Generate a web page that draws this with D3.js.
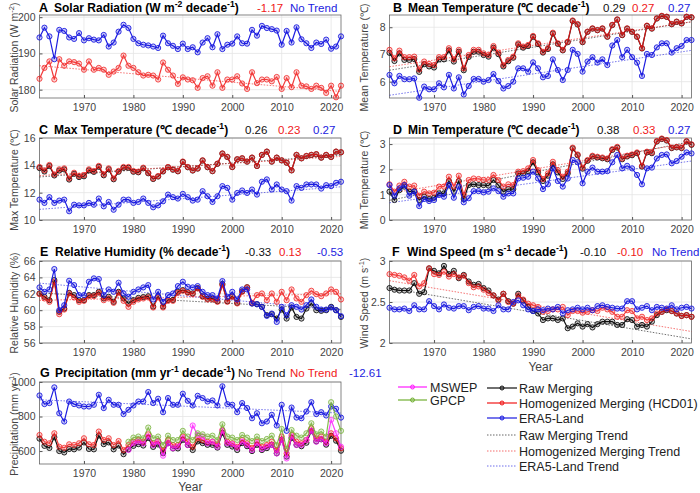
<!DOCTYPE html>
<html><head><meta charset="utf-8">
<script src="https://cdn.jsdelivr.net/npm/d3@7"></script>
<style>body{margin:0;background:#fff} svg{font-family:"Liberation Sans",Arial,sans-serif}</style>
</head><body><svg id="c" width="700" height="493"></svg>
<script>
const years = d3.range(1961, 2023);
const yearsSat = d3.range(1979, 2023);
const xTicks = [1970, 1980, 1990, 2000, 2010, 2020];

// A Solar radiation
const solarHom = [183,186,187.8,182.8,188.4,186.6,187.8,187.6,187.2,185.5, 187.8,185.5,186,185.5,184.1,185,186,189.4,186.6,186, 184.8,183.9,184.1,183.9,182.8,187.5,185.5,183.9,181.6,183.4, 182.8,182.6,180.5,183.2,183.7,181.1,184.8,180.5,182.8,182.8, 183.7,181.7,180.2,184.8,181.8,182.8,182.8,182.3,183.5,180.2, 183.2,180.7,184.8,181.1,180.9,180.2,181.1,180.5,179.1,181.1, 177.9,181.1];
const solarEra = [194.4,197.1,194.7,188.4,196.5,196.2,194.4,194,195.6,193.6, 194.2,193.8,193.6,195.1,191.9,193,196,197.9,197,194, 192.8,192.4,192.2,191.9,191.5,194.9,192.8,192.1,191.2,192.7, 191.2,191.7,190.3,193,194.2,191.7,195.3,191.2,192.4,192.7, 194.7,192.8,192.7,196.5,194.9,197.6,197,196.7,196.3,192.4, 196.2,193,197.2,193.9,192.8,191.5,193,192.6,193.8,191.3, 191.9,194.7];
// B Mean temperature
const meanRaw = [7.06,6.76,7.04,6.8,6.8,6.83,6.36,6.64,6.56,6.52, 6.82,6.82,7.15,6.74,7.1,6.42,6.91,7.1,7.1,6.98, 6.92,7.25,7.01,6.56,6.75,6.88,7.37,7.25,7.31,7.65, 7.38,7.07,7.2,7.77,7.39,7.15,7.45,8.23,8.1,7.45, 7.83,7.95,7.89,7.95,7.65,8.08,8.28,7.71,7.95,7.83, 7.65,7.22,8.05,7.95,8.32,8.41,8.38,8.11,8.2,8.14, 8.38,8.36];
const meanHom = [7.17,6.86,7.14,6.9,6.9,6.92,6.45,6.74,6.65,6.61, 6.9,6.9,7.23,6.82,7.17,6.49,6.98,7.17,7.17,7.04, 6.98,7.31,7.07,6.61,6.8,6.92,7.41,7.29,7.35,7.68, 7.41,7.1,7.23,7.8,7.41,7.17,7.47,8.25,8.12,7.47, 7.84,7.96,7.9,7.96,7.66,8.09,8.29,7.72,7.96,7.84, 7.66,7.23,8.06,7.96,8.33,8.42,8.39,8.12,8.21,8.15, 8.39,8.37];
const meanEra = [6.25,5.94,6.21,6.09,6.09,6.12,5.41,5.82,5.72,5.72, 5.94,5.79,6.25,5.75,6.16,5.53,5.84,6.1,6.1,6.0, 6.06,6.28,6.02,5.75,5.84,6.0,6.49,6.49,6.37,6.71, 6.49,6.16,6.21,6.82,6.43,6.06,6.43,7.17,7.02,6.37, 6.74,6.9,6.7,6.82,6.61,7.33,7.53,6.9,7.17,6.9, 6.7,6.21,7.02,6.98,7.26,7.41,7.41,7.07,7.23,7.31, 7.53,7.53];
// C Max temperature
const maxRaw = [13.8,13.55,13.95,13.26,13.62,13.7,12.96,13.38,13.14,13.2, 13.63,13.52,13.89,13.27,13.71,12.98,13.53,13.82,13.82,13.53, 13.49,13.78,13.42,13.0,13.18,13.55,13.85,13.68,13.56,14.25, 13.86,13.62,13.76,14.35,13.86,13.57,14.11,14.86,14.61,13.87, 14.44,14.51,14.27,14.56,13.95,14.76,15.0,14.27,14.56,14.36, 14.19,13.63,14.76,14.51,14.68,14.76,14.81,14.56,14.76,14.61, 15.0,14.95];
const maxHom = [13.88,13.64,14.03,13.34,13.71,13.78,13.04,13.46,13.22,13.29, 13.71,13.59,13.96,13.34,13.78,13.04,13.59,13.88,13.88,13.59, 13.54,13.83,13.46,13.04,13.22,13.59,13.88,13.71,13.59,14.28, 13.88,13.64,13.78,14.37,13.88,13.59,14.13,14.87,14.62,13.88, 14.45,14.52,14.28,14.57,13.96,14.77,15.01,14.28,14.57,14.37, 14.2,13.64,14.77,14.52,14.69,14.77,14.82,14.57,14.77,14.62, 15.01,14.96];
const maxEra = [11.49,11.25,11.67,11.25,11.42,11.49,10.64,11.12,11.07,11.07, 11.25,11.12,11.57,11.0,11.32,10.75,11.12,11.49,11.49,11.25, 11.32,11.57,11.25,10.93,11.07,11.37,11.86,11.67,11.57,11.91, 11.67,11.42,11.49,12.11,11.74,11.32,11.74,12.48,12.35,11.49, 11.98,12.16,11.98,12.23,11.86,12.8,12.97,12.23,12.6,12.23, 12.11,11.42,12.48,12.35,12.6,12.6,12.6,12.3,12.55,12.48, 12.72,12.8];
// D Min temperature
const minRaw = [1.12,0.79,1.18,1.32,1.12,1.14,0.79,0.92,0.83,0.88, 1.05,1.05,1.54,1.12,1.54,0.83,1.38,1.41,1.38,1.38, 1.36,1.58,1.38,1.12,1.22,1.22,1.84,1.84,1.93,2.28, 1.88,1.54,1.75,2.2,1.88,1.62,1.84,2.83,2.56,2.03, 2.34,2.51,2.47,2.44,2.4,2.77,2.86,2.4,2.51,2.56, 2.64,2.11,2.67,2.64,3.1,3.2,3.14,2.84,2.87,2.84, 3.1,2.97];
const minHom = [1.41,1.12,1.36,1.51,1.32,1.36,0.96,1.12,1.05,1.08, 1.32,1.32,1.71,1.32,1.75,0.99,1.58,1.64,1.62,1.58, 1.58,1.78,1.58,1.32,1.41,1.38,1.91,1.93,2.04,2.37, 1.97,1.62,1.84,2.3,1.97,1.71,1.91,2.86,2.59,2.07, 2.37,2.54,2.5,2.47,2.43,2.8,2.89,2.43,2.54,2.59, 2.67,2.14,2.7,2.67,3.12,3.22,3.16,2.86,2.89,2.86, 3.12,2.99];
const minEra = [1.38,0.96,1.25,1.38,0.96,1.12,0.55,0.83,0.75,0.79, 0.99,0.92,1.38,0.88,1.32,0.7,0.86,1.14,1.14,1.09, 1.12,1.25,1.14,0.92,1.05,1.05,1.64,1.67,1.71,1.91, 1.64,1.22,1.41,2.04,1.54,1.32,1.64,2.37,2.28,1.45, 1.91,2.07,1.91,1.91,1.93,2.28,2.57,2.04,2.14,2.04, 1.78,1.41,2.04,2.07,2.43,2.57,2.59,2.24,2.33,2.5, 2.67,2.63];
// E Relative humidity
const rhRaw = [62.04,61.63,61.22,63.67,59.8,60.2,62.12,61.84,61.22,61.22, 61.84,61.84,62.24,61.43,61.63,61.02,62.24,61.43,60.82,61.22, 61.5,61.6,61.7,60.45,61.7,60.45,61.25,61.25,62.25,62.45, 62.2,62.05,62.7,61.7,61.4,61.4,61.1,63.2,61.1,61.7, 60.9,62.3,62.8,60.82,60.73,60.41,59.39,59.51,58.98,60.08, 58.98,60.33,59.18,58.98,60.2,60.82,60.0,59.92,60.0,60.41, 60.0,59.18];
const rhHom = [61.96,61.43,61.02,63.47,59.51,60.08,62.04,61.55,61.02,61.14, 61.71,61.71,62.12,61.22,61.43,60.9,62.12,61.14,60.41,61.02, 61.31,61.43,61.55,60.33,61.55,60.33,61.14,61.14,62.12,62.37, 62.12,61.96,62.65,61.63,61.31,61.31,61.02,63.06,61.02,61.63, 60.82,62.24,62.78,60.9,61.84,62.04,61.22,62.04,61.02,62.24, 61.22,62.53,61.43,61.02,61.84,62.37,61.96,61.71,62.04,62.53, 62.24,61.31];
const rhEra = [62.78,62.24,62.53,65.02,60.0,60.61,63.59,63.06,61.84,61.84, 63.47,63.88,63.8,61.84,62.53,62.24,63.35,62.04,61.63,62.24, 62.53,62.78,63.06,61.31,62.24,61.02,61.84,62.04,62.94,63.47, 62.86,62.78,62.94,62.24,61.84,61.84,61.43,63.55,61.63,62.24, 61.31,62.53,62.53,60.82,60.73,60.41,59.31,59.59,58.57,60.41, 59.39,60.61,60.41,60.08,60.61,61.31,60.41,60.08,60.08,60.33, 60.0,59.27];
// F Wind speed
const wsRaw = [2.67,2.65,2.64,2.64,2.64,2.73,2.6,2.62,2.91,2.88, 2.85,2.94,2.84,2.88,2.79,2.83,2.75,2.71,2.72,2.67, 2.64,2.58,2.53,2.6,2.51,2.48,2.6,2.52,2.44,2.39, 2.36,2.28,2.3,2.3,2.28,2.3,2.18,2.2,2.24,2.2, 2.23,2.19,2.23,2.26,2.26,2.26,2.22,2.22,2.29,2.28, 2.2,2.22,2.2,2.26,2.34,2.38,2.4,2.39,2.36,2.33, 2.34,2.32];
const wsHom = [2.84,2.83,2.82,2.8,2.76,2.83,2.69,2.73,2.91,2.84, 2.83,2.87,2.81,2.84,2.8,2.82,2.73,2.68,2.69,2.65, 2.61,2.58,2.52,2.6,2.5,2.48,2.58,2.53,2.48,2.46, 2.44,2.38,2.39,2.41,2.41,2.44,2.34,2.39,2.39,2.37, 2.38,2.4,2.39,2.43,2.41,2.38,2.32,2.32,2.4,2.39, 2.3,2.32,2.28,2.3,2.36,2.38,2.41,2.39,2.36,2.33, 2.34,2.32];
const wsEra = [2.43,2.41,2.41,2.42,2.39,2.46,2.41,2.41,2.51,2.45, 2.41,2.47,2.43,2.42,2.45,2.45,2.4,2.44,2.45,2.42, 2.42,2.39,2.46,2.41,2.41,2.5,2.52,2.46,2.41,2.39, 2.41,2.4,2.42,2.41,2.44,2.36,2.4,2.41,2.43,2.41, 2.43,2.4,2.45,2.46,2.44,2.43,2.42,2.42,2.51,2.51, 2.41,2.43,2.45,2.4,2.44,2.43,2.42,2.46,2.41,2.43, 2.44,2.42];
// G Precipitation
const preRaw = [672,630,618,680,600,592,612,610,620,650, 612,610,690,640,650,610,632,582,610,630, 640,632,676,624,638,588,645,615,615,665, 635,606,656,646,636,636,620,705,636,626, 606,646,628,600,636,606,617,636,587,666, 568,676,636,628,648,716,656,668,637,688, 660,602];
const preHom = [693,654,645,703,625,619,639,635,645,674, 639,635,713,664,674,635,658,606,635,654, 664,654,697,645,658,606,664,635,635,684, 654,625,674,664,654,654,639,722,654,645, 625,664,645,619,654,625,635,654,606,684, 586,693,654,645,664,732,674,684,654,703, 674,616];
const preEra = [922,872,878,969,819,771,887,872,864,858, 858,868,926,849,897,868,868,814,839,864, 887,887,942,878,903,825,907,868,868,932, 891,864,920,907,887,893,864,975,872,868, 825,878,849,790,819,761,771,810,748,868, 717,852,794,790,829,883,814,825,806,858, 845,794];
const preMswep = [606,645,654,645,684,635,654,573,645,616, 625,674,635,748,693,684,645,654,625,717, 645,639,619,654,635,606,645,612,625,635, 586,664,557,684,635,635,664,717,654,670, 645,781,703,625];
const preGpcp = [654,678,684,674,736,674,684,635,689,664, 664,717,684,664,703,697,684,689,664,755, 684,678,664,693,678,658,684,658,670,689, 635,728,612,722,689,678,703,761,697,713, 684,883,800,717];

// Trend lines: values at 1961 and 2022 (null = no trend)
const trendA = {raw:null, hom:[186.6,179.5], era:null};
const trendB = {raw:[6.42,8.2], hom:[6.55,8.2], era:[5.5,7.15]};
const trendC = {raw:[13.15,14.74], hom:[13.25,14.65], era:[10.78,12.43]};
const trendD = {raw:[0.78,3.1], hom:[1.05,3.06], era:[0.68,2.33]};
const trendE = {raw:[62.1,60.1], hom:[61.2,62.0], era:[63.3,60.05]};
const trendF = {raw:[2.67,2.05], hom:[2.76,2.14], era:null};
const trendG = {raw:null, hom:null, era:[897,820]};

const C = {raw:'#111111', hom:'#f01818', era:'#1c1ce0', mswep:'#ff1cff', gpcp:'#72b032'};

const svg = d3.select('#c');
const L = [39.5, 341], R = [389.5, 691.5];
const panels = [
 {x:L, y:[15,98], dom:[177.7,200.6], yt:[180,190,200], raw:null, hom:solarHom, era:solarEra, tr:trendA,
  letter:'A', lx:39, title:[['Solar Radiation (W m'],['-2',1],[' decade'],['-1',1],[')']], ty:12,
  nums:[['-1.17','hom',257],['No Trend','era',290]],
  ylab:[['Solar Radiation (W m'],['-2',1],[')']]},
 {x:R, y:[15,98], dom:[5.4,8.45], yt:[6,7,8], raw:meanRaw, hom:meanHom, era:meanEra, tr:trendB,
  letter:'B', lx:393, title:[['Mean Temperature (\u2103 decade'],['-1',1],[')']], ty:12,
  nums:[['0.29','raw',603],['0.27','hom',632],['0.27','era',668]],
  ylab:[['Mean Temperature (\u2103)']]},
 {x:L, y:[138,220], dom:[10,16], yt:[10,12,14,16], raw:maxRaw, hom:maxHom, era:maxEra, tr:trendC,
  letter:'C', lx:39, title:[['Max Temperature (\u2103 decade'],['-1',1],[')']], ty:134,
  nums:[['0.26','raw',245],['0.23','hom',278],['0.27','era',313]],
  ylab:[['Max Temperature (\u2103)']]},
 {x:R, y:[138,220], dom:[0,3.24], yt:[0,1,2,3], raw:minRaw, hom:minHom, era:minEra, tr:trendD,
  letter:'D', lx:393, title:[['Min Temperature (\u2103 decade'],['-1',1],[')']], ty:134,
  nums:[['0.38','raw',597],['0.33','hom',633],['0.27','era',668]],
  ylab:[['Min Temperature (\u2103)']]},
 {x:L, y:[261,343], dom:[56,66], yt:[56,58,60,62,64,66], raw:rhRaw, hom:rhHom, era:rhEra, tr:trendE,
  letter:'E', lx:40, title:[['Relative Humidity (% decade'],['-1',1],[')']], ty:256,
  nums:[['-0.33','raw',245],['0.13','hom',279],['-0.53','era',317]],
  ylab:[['Relative Humidity (%)']]},
 {x:R, y:[261,343], dom:[2,3], yt:[2,2.5,3], raw:wsRaw, hom:wsHom, era:wsEra, tr:trendF,
  letter:'F', lx:392, title:[['Wind Speed (m s'],['-1',1],[' decade'],['-1',1],[')']], ty:256,
  nums:[['-0.10','raw',580],['-0.10','hom',617],['No Trend','era',652]],
  ylab:[['Wind Speed (m s'],['-1',1],[')']], xlab:28},
 {x:L, y:[382,464], dom:[525,1000], yt:[600,800,1000], raw:preRaw, hom:preHom, era:preEra, tr:trendG,
  letter:'G', lx:40, title:[['Precipitation (mm yr'],['-1',1],[' decade'],['-1',1],[')']], ty:377,
  nums:[['No Trend','raw',238],['No Trend','hom',290],['-12.61','era',349]],
  ylab:[['Precipitation (mm yr'],['-1',1],[')']], xlab:26.5, sat:true}
];

function rich(t, parts, fs){
  let up = false;
  parts.forEach(p=>{
    const ts = t.append('tspan').text(p[0]);
    if(p[1]){ ts.attr('font-size', fs*0.72).attr('dy', -fs*0.42); up = true; }
    else if(up){ ts.attr('dy', fs*0.42); up = false; }
  });
}

panels.forEach(p=>{
  const x = d3.scaleLinear().domain([1961,2022]).range(p.x);
  const y = d3.scaleLinear().domain(p.dom).range([p.y[1], p.y[0]]);
  const g = svg.append('g');
  // grid
  g.selectAll('.gx').data(xTicks).join('line').attr('x1',d=>x(d)).attr('x2',d=>x(d))
    .attr('y1',p.y[0]).attr('y2',p.y[1]).attr('stroke','#e4e4e4').attr('stroke-width',0.8);
  g.selectAll('.gy').data(p.yt).join('line').attr('y1',d=>y(d)).attr('y2',d=>y(d))
    .attr('x1',p.x[0]).attr('x2',p.x[1]).attr('stroke','#e4e4e4').attr('stroke-width',0.8);
  // axes
  const ax = g.append('g').attr('transform',`translate(0,${p.y[1]})`)
    .call(d3.axisBottom(x).tickValues(xTicks).tickFormat(d3.format('d')).tickSize(-3).tickPadding(6));
  const ay = g.append('g').attr('transform',`translate(${p.x[0]},0)`)
    .call(d3.axisLeft(y).tickValues(p.yt).tickFormat(d=>d).tickSize(-3).tickPadding(4));
  [ax,ay].forEach(a=>{
    a.select('.domain').remove();
    a.selectAll('line').attr('stroke','#555');
    a.selectAll('text').attr('font-size',10.5).attr('fill','#444').attr('font-family','"Liberation Sans",Arial,sans-serif');
  });
  g.append('rect').attr('x',p.x[0]).attr('y',p.y[0]).attr('width',p.x[1]-p.x[0]).attr('height',p.y[1]-p.y[0])
    .attr('fill','none').attr('stroke','#666').attr('stroke-width',0.8);
  // trends
  ['raw','hom','era'].forEach(k=>{
    const t = p.tr[k]; if(!t) return;
    g.append('line').attr('x1',x(1961)).attr('x2',x(2022)).attr('y1',y(t[0])).attr('y2',y(t[1]))
      .attr('stroke',C[k]).attr('stroke-width',0.8).attr('stroke-dasharray','1.5,1.5').attr('opacity',0.75);
  });
  const line = d3.line().x(d=>x(d[0])).y(d=>y(d[1]));
  function series(vals, yrs, col, op){
    const pts = yrs.map((yr,i)=>[yr, vals[i]]);
    const sg = g.append('g').attr('opacity',op);
    sg.append('path').attr('d',line(pts)).attr('fill','none').attr('stroke',col).attr('stroke-width',1.2);
    sg.selectAll('circle').data(pts).join('circle').attr('cx',d=>x(d[0])).attr('cy',d=>y(d[1])).attr('r',2.6)
      .attr('fill',col).attr('fill-opacity',0.22).attr('stroke',col).attr('stroke-width',0.9);
  }
  if(p.raw) series(p.raw, years, C.raw, 1);
  if(p.hom) series(p.hom, years, C.hom, 0.85);
  if(p.era) series(p.era, years, C.era, 1);
  if(p.sat){ series(preMswep, yearsSat, C.mswep, 0.85); series(preGpcp, yearsSat, C.gpcp, 0.85); }
  // title
  svg.append('text').attr('x',p.lx).attr('y',p.ty).attr('font-size',12.5).attr('font-weight','bold').text(p.letter);
  const tt = svg.append('text').attr('x',p.lx+15).attr('y',p.ty).attr('font-size',12).attr('font-weight','bold');
  rich(tt, p.title, 12);
  p.nums.forEach(n=>{
    svg.append('text').attr('x',n[2]).attr('y',p.ty).attr('font-size',11.5).attr('fill',C[n[1]]).text(n[0]);
  });
  // y label
  const cx = p.x[0] === L[0] ? 18 : 368;
  const cy = (p.y[0]+p.y[1])/2 + 1;
  const yl = svg.append('text').attr('transform',`translate(${cx},${cy}) rotate(-90)`).attr('text-anchor','middle')
    .attr('font-size',10.5).attr('fill','#444');
  rich(yl, p.ylab, 10.5);
  if(p.xlab){
    svg.append('text').attr('x',(p.x[0]+p.x[1])/2).attr('y',p.y[1]+p.xlab).attr('text-anchor','middle')
      .attr('font-size',12).attr('fill','#444').text('Year');
  }
});

// legend
const legA = [['MSWEP','mswep',387],['GPCP','gpcp',400]];
const legB = [['Raw Merging','raw',388,false],['Homogenized Merging (HCD01)','hom',403,false],['ERA5-Land','era',418,false],
  ['Raw Merging Trend','raw',435,true],['Homogenized Merging Trend','hom',451,true],['ERA5-Land Trend','era',466,true]];
const lg = svg.append('g');
legA.forEach(d=>{
  lg.append('line').attr('x1',398).attr('x2',427).attr('y1',d[2]).attr('y2',d[2]).attr('stroke',C[d[1]]).attr('stroke-width',1.2);
  lg.append('circle').attr('cx',412.5).attr('cy',d[2]).attr('r',2).attr('fill',C[d[1]]).attr('fill-opacity',0.25).attr('stroke',C[d[1]]);
  lg.append('text').attr('x',430).attr('y',d[2]+4.5).attr('font-size',12.5).attr('fill','#222').text(d[0]);
});
legB.forEach(d=>{
  const l = lg.append('line').attr('x1',487).attr('x2',517).attr('y1',d[2]).attr('y2',d[2]).attr('stroke',C[d[1]]);
  if(d[3]) l.attr('stroke-width',0.9).attr('stroke-dasharray','1.5,1.5').attr('opacity',0.7);
  else {
    l.attr('stroke-width',1.2);
    lg.append('circle').attr('cx',502).attr('cy',d[2]).attr('r',2).attr('fill',C[d[1]]).attr('fill-opacity',0.25).attr('stroke',C[d[1]]);
  }
  lg.append('text').attr('x',519).attr('y',d[2]+4.5).attr('font-size',12.5).attr('fill','#222').text(d[0]);
});
</script></body></html>
